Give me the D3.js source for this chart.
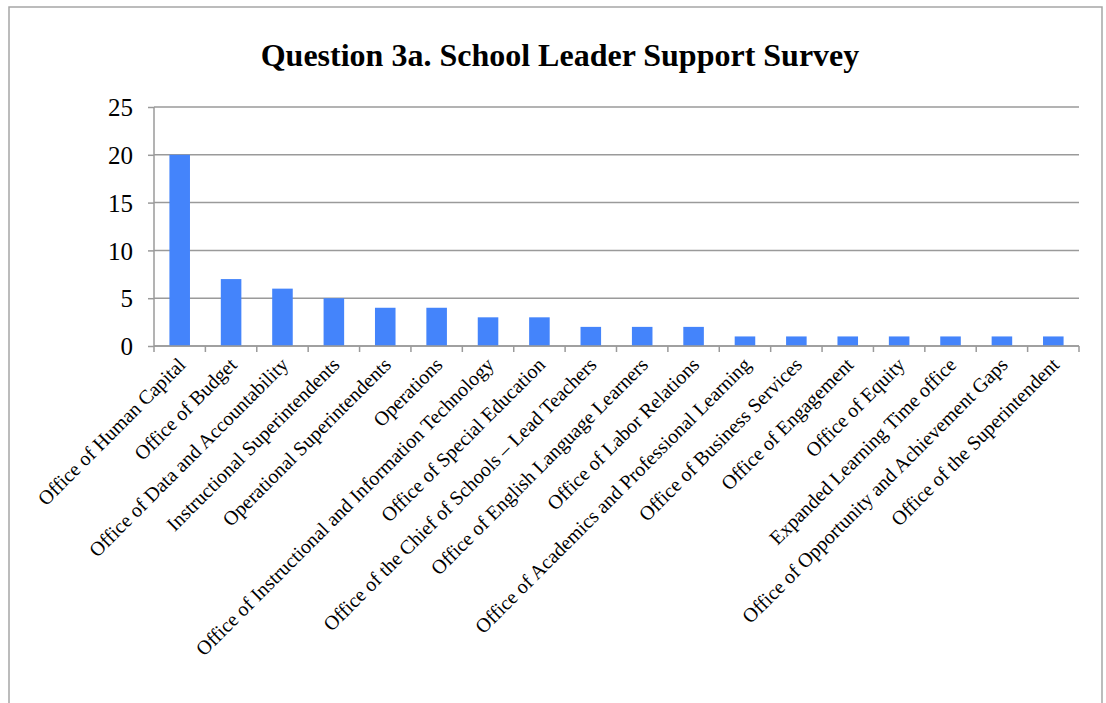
<!DOCTYPE html>
<html>
<head>
<meta charset="utf-8">
<script src="https://cdn.jsdelivr.net/npm/d3@7"></script>
<style>
  body { margin: 0; background: #fff; }
  svg text { font-family: "Liberation Serif", "Times New Roman", serif; fill: #000; }
</style>
</head>
<body>
<div id="chart"></div>
<script>
var categories = [
  "Office of Human Capital",
  "Office of Budget",
  "Office of Data and Accountability",
  "Instructional Superintendents",
  "Operational Superintendents",
  "Operations",
  "Office of Instructional and Information Technology",
  "Office of Special Education",
  "Office of the Chief of Schools \u2013 Lead Teachers",
  "Office of English Language Learners",
  "Office of Labor Relations",
  "Office of Academics and Professional Learning",
  "Office of Business Services",
  "Office of Engagement",
  "Office of Equity",
  "Expanded Learning Time office",
  "Office of Opportunity and Achievement Gaps",
  "Office of the Superintendent"
];
var counts = [20, 7, 6, 5, 4, 4, 3, 3, 2, 2, 2, 1, 1, 1, 1, 1, 1, 1];
var yTicks = [0, 5, 10, 15, 20, 25];
var title = "Question 3a. School Leader Support Survey";

var W = 1106, H = 703;
var plot = {left: 154, right: 1079, top: 107, bottom: 346};

var svg = d3.select("#chart").append("svg")
  .attr("width", W)
  .attr("height", H);

// outer frame (bottom is cut off in the original)
svg.append("path")
  .attr("d", "M9," + H + " L9,7 L1102,7 L1102," + H)
  .style("fill", "none")
  .style("stroke", "#a6a6a6")
  .style("stroke-width", 1.5);

svg.append("text")
  .attr("x", 560)
  .attr("y", 66)
  .attr("text-anchor", "middle")
  .style("font-size", "32px")
  .style("font-weight", "bold")
  .text(title);

var x = d3.scaleBand()
  .domain(categories)
  .range([plot.left, plot.right])
  .paddingInner(0.6)
  .paddingOuter(0.3);

var y = d3.scaleLinear()
  .domain([0, 25])
  .range([plot.bottom, plot.top]);

// y axis ticks + labels
var yAxis = svg.append("g")
  .attr("transform", "translate(" + plot.left + ",0)")
  .call(d3.axisLeft(y).tickValues(yTicks).tickSize(6).tickPadding(15));
yAxis.select(".domain").remove();
yAxis.selectAll("line").style("stroke", "#9a9a9a").style("stroke-width", 1.5);
yAxis.selectAll("text")
  .style("font-size", "25px")
  .style("font-family", "Liberation Serif, serif")
  .attr("dy", "0.35em");

// gridlines
svg.append("g").selectAll("line")
  .data(yTicks)
  .join("line")
  .attr("x1", plot.left)
  .attr("x2", plot.right)
  .attr("y1", function(d) { return y(d); })
  .attr("y2", function(d) { return y(d); })
  .style("stroke", "#9a9a9a")
  .style("stroke-width", 1.5);

svg.append("line")
  .attr("x1", plot.left).attr("x2", plot.left)
  .attr("y1", plot.top).attr("y2", plot.bottom)
  .style("stroke", "#9a9a9a")
  .style("stroke-width", 1.5);

// bars
svg.append("g").selectAll("rect")
  .data(counts)
  .join("rect")
  .attr("x", function(d, i) { return x(categories[i]); })
  .attr("y", function(d) { return y(d); })
  .attr("width", x.bandwidth())
  .attr("height", function(d) { return y(0) - y(d); })
  .style("fill", "#4484fb");

// x axis ticks between categories
var bounds = d3.range(categories.length + 1).map(function(i) { return plot.left + i * (plot.right - plot.left) / categories.length; });
svg.append("g").selectAll("line")
  .data(bounds)
  .join("line")
  .attr("x1", function(d) { return d; })
  .attr("x2", function(d) { return d; })
  .attr("y1", plot.bottom)
  .attr("y2", plot.bottom + 6)
  .style("stroke", "#9a9a9a")
  .style("stroke-width", 1.5);

svg.append("line")
  .attr("x1", plot.left).attr("x2", plot.right)
  .attr("y1", plot.bottom).attr("y2", plot.bottom)
  .style("stroke", "#9a9a9a")
  .style("stroke-width", 1.5);

// rotated category labels
svg.append("g").selectAll("text")
  .data(categories)
  .join("text")
  .attr("text-anchor", "end")
  .attr("transform", function(d) {
    var cx = x(d) + x.bandwidth() / 2 + 7;
    return "translate(" + cx + "," + (plot.bottom + 20) + ") rotate(-45)";
  })
  .style("font-size", "20px")
  .text(function(d) { return d; });
</script>
</body>
</html>
